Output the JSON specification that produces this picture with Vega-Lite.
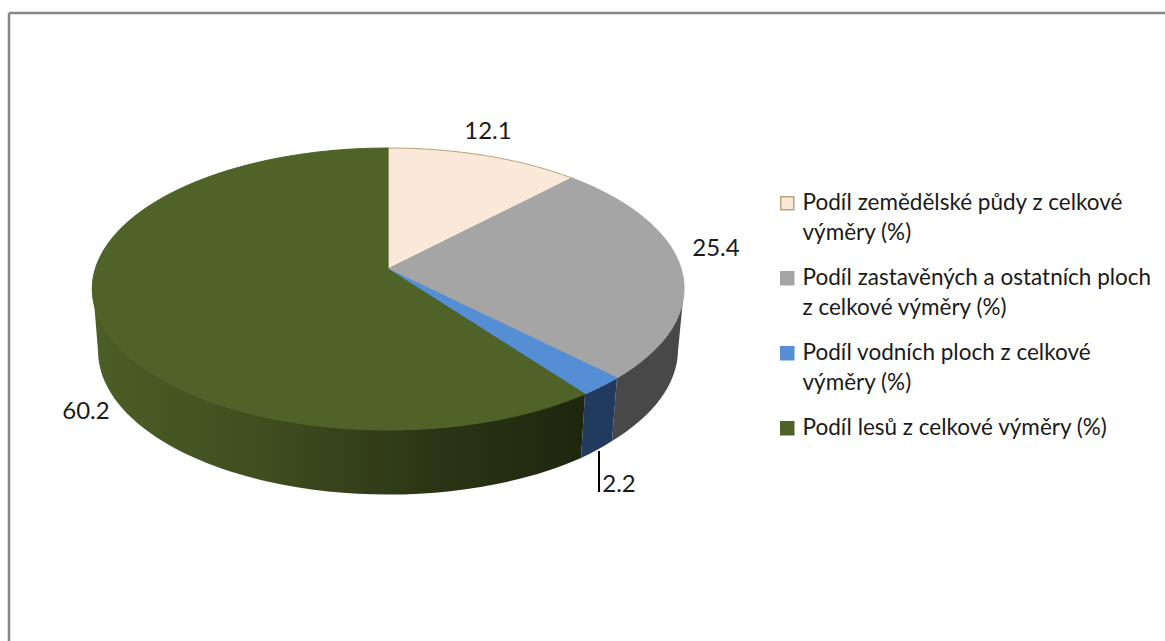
{
  "$schema": "https://vega.github.io/schema/vega-lite/v6.json",
  "width": 758,
  "height": 512,
  "padding": {"left": 7, "top": 11, "right": 0, "bottom": 0},
  "background": "white",
  "config": {"view": {"stroke": null}, "font": "Lato", "style": {"guide-label": {"lineHeight": 30}}},
  "data": {"values": [
    {"category": "Podíl zemědělské půdy z celkové výměry (%)", "value": 12.1},
    {"category": "Podíl zastavěných a ostatních ploch z celkové výměry (%)", "value": 25.4},
    {"category": "Podíl vodních ploch z celkové výměry (%)", "value": 2.2},
    {"category": "Podíl lesů z celkové výměry (%)", "value": 60.2}
  ]},
  "layer": [
    {
      "data": {"values": [{"frame": "top"}]},
      "mark": {"type": "rule", "stroke": "#868686", "strokeWidth": 2.5},
      "encoding": {"x": {"value": 0}, "x2": {"value": 1157}, "y": {"value": 0}}
    },
    {
      "data": {"values": [{"frame": "left"}]},
      "mark": {"type": "rule", "stroke": "#868686", "strokeWidth": 2.5},
      "encoding": {"x": {"value": 0}, "y": {"value": 0}, "y2": {"value": 629}}
    },
    {
      "transform": [{"filter": "datum.value === 25.4"}],
      "mark": {"type": "point", "filled": true, "size": 4, "opacity": 1, "fill": "#484848", "stroke": null, "shape": "M296 20L290 82A290 144 0 0 1 224 172L229 109Z"}
    },
    {
      "transform": [{"filter": "datum.value === 2.2"}],
      "mark": {"type": "point", "filled": true, "size": 4, "opacity": 1, "fill": "#223A5E", "stroke": null, "shape": "M229 109L224 172A290 144 0 0 1 193 189L197 125Z"}
    },
    {
      "transform": [{"filter": "datum.value === 60.2"}],
      "mark": {"type": "point", "filled": true, "size": 4, "opacity": 1, "stroke": null,
        "fill": {"gradient": "linear", "x1": 0, "y1": 0, "x2": 1, "y2": 0, "stops": [
          {"offset": 0, "color": "#4C5E27"},
          {"offset": 0.35, "color": "#3F4D1F"},
          {"offset": 0.7, "color": "#2B3515"},
          {"offset": 1, "color": "#1E260E"}
        ]},
        "shape": "M197 125L193 189A290 144 0 0 1 -290 82L-295 20Z"}
    },
    {
      "mark": {"type": "point", "filled": true, "size": 4, "opacity": 1, "strokeWidth": 1},
      "encoding": {
        "shape": {
          "field": "value", "type": "nominal", "legend": null,
          "scale": {
            "domain": [12.1, 25.4, 2.2, 60.2],
            "range": [
              "M0 0L0 -121A295.5 141 0 0 1 184 -91Z",
              "M0 0L184 -91A295.5 141 0 0 1 229 109Z",
              "M0 0L229 109A295.5 141 0 0 1 197 125Z",
              "M0 0L197 125A295.5 141 0 1 1 0 -121Z"
            ]
          }
        },
        "fill": {
          "field": "category", "type": "nominal",
          "scale": {
            "domain": [
              "Podíl zemědělské půdy z celkové výměry (%)",
              "Podíl zastavěných a ostatních ploch z celkové výměry (%)",
              "Podíl vodních ploch z celkové výměry (%)",
              "Podíl lesů z celkové výměry (%)"
            ],
            "range": ["#FAE8D8", "#A5A5A5", "#558ED5", "#4F6228"]
          },
          "legend": {
            "title": null,
            "orient": "none",
            "legendX": 767,
            "legendY": 179,
            "padding": 0,
            "symbolType": "square",
            "symbolSize": 169,
            "symbolStrokeWidth": 1.5,
            "labelFont": "Lato",
            "labelFontSize": 22.5,
            "labelColor": "#1a1a1a",
            "labelLimit": 420,
            "labelOffset": 4,
            "rowPadding": 22,
            "labelExpr": "indexof(datum.label,'zastavěných')>=0 ? split(replace(datum.label,' z celkové','|z celkové'),'|') : indexof(datum.label,'lesů')>=0 ? datum.label : split(replace(datum.label,' výměry','|výměry'),'|')"
          }
        },
        "stroke": {
          "field": "category", "type": "nominal",
          "scale": {
            "domain": [
              "Podíl zemědělské půdy z celkové výměry (%)",
              "Podíl zastavěných a ostatních ploch z celkové výměry (%)",
              "Podíl vodních ploch z celkové výměry (%)",
              "Podíl lesů z celkové výměry (%)"
            ],
            "range": ["#B5A67C", "#A5A5A5", "#558ED5", "#4F6228"]
          }
        }
      }
    },
    {
      "transform": [{"filter": "datum.value === 2.2"}],
      "mark": {"type": "point", "filled": false, "size": 4, "opacity": 1, "stroke": "#000000", "strokeWidth": 2, "shape": "M211 182L211 223"}
    },
    {
      "transform": [{"filter": "datum.value === 12.1"}],
      "mark": {"type": "text", "fontSize": 24, "color": "#1a1a1a", "dx": 100, "dy": -137, "baseline": "middle"},
      "encoding": {"text": {"field": "value", "type": "quantitative", "format": ".1f"}}
    },
    {
      "transform": [{"filter": "datum.value === 25.4"}],
      "mark": {"type": "text", "fontSize": 24, "color": "#1a1a1a", "dx": 328, "dy": -20, "baseline": "middle"},
      "encoding": {"text": {"field": "value", "type": "quantitative", "format": ".1f"}}
    },
    {
      "transform": [{"filter": "datum.value === 60.2"}],
      "mark": {"type": "text", "fontSize": 24, "color": "#1a1a1a", "dx": -302, "dy": 143, "baseline": "middle"},
      "encoding": {"text": {"field": "value", "type": "quantitative", "format": ".1f"}}
    },
    {
      "transform": [{"filter": "datum.value === 2.2"}],
      "mark": {"type": "text", "fontSize": 24, "color": "#1a1a1a", "dx": 231, "dy": 216, "baseline": "middle"},
      "encoding": {"text": {"field": "value", "type": "quantitative", "format": ".1f"}}
    }
  ]
}
